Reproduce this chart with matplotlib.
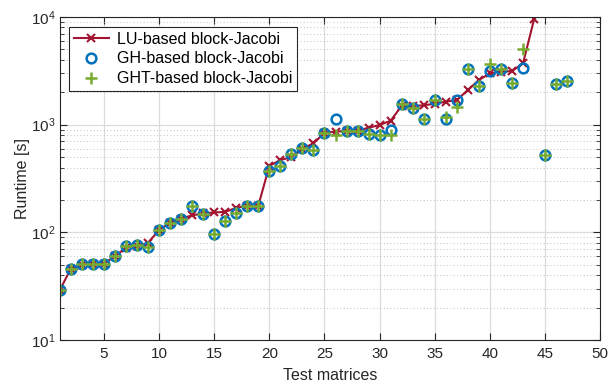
import matplotlib
matplotlib.use("Agg")
import matplotlib.pyplot as plt
import numpy as np

plt.rcParams['font.family'] = ['Liberation Sans', 'DejaVu Sans']
plt.rcParams['mathtext.default'] = 'regular'

# runtimes [s] per test matrix
lu = [29, 46, 50, 51, 51, 60, 72, 74, 80, 105,
      123, 134, 144, 150, 153, 155, 169, 177, 177, 414,
      470, 500, 600, 670, 843, 861, 874, 880, 937, 994,
      1090, 1500, 1492, 1514, 1565, 1636, 1695, 2100, 2600, 3000,
      3100, 3150, 3720, 9500]
gh = [29, 46, 50.6, 51, 51, 60, 75, 76, 73.6, 105,
      123, 134, 177, 147, 96, 128, 150, 177, 177, 374,
      414, 540, 608, 585, 843, 1122, 874, 874, 815, 802,
      887, 1550, 1420, 1130, 1684, 1125, 1695, 3311, 2271, 3130,
      3311, 2420, 3390, np.nan, 523, 2366, 2546]
ght = [29, 46, 50.6, 51, 51, 60, 75, 76, 73.6, 105,
       123, 134, 177, 147, 96, 128, 150, 177, 177, 374,
       414, 540, 608, 585, 843, 802, 874, 874, 815, 802,
       802, 1550, 1420, 1130, 1684, 1187, 1469, 3311, 2271, 3660,
       3311, 2420, 5010, np.nan, 523, 2366, 2546]

x_lu = np.arange(1, len(lu) + 1)
x_g = np.arange(1, len(gh) + 1)

fig = plt.figure(figsize=(6.1, 3.84), dpi=100)
ax = fig.add_axes([0.098, 0.1146, 0.886, 0.841])

ax.plot(x_lu, lu, '-x', color='#A2142F', lw=1.5, ms=6, mew=1.5,
        label='LU-based block-Jacobi')
ax.plot(x_g, gh, 'o', color='#0072BD', mfc='none', ms=7, mew=1.8,
        label='GH-based block-Jacobi')
ax.plot(x_g, ght, '+', color='#77AC30', ms=8, mew=1.8,
        label='GHT-based block-Jacobi')

ax.set_yscale('log')
ax.set_xlim(1, 50)
ax.set_ylim(10, 1e4)
ax.set_xticks(np.arange(5, 51, 5))

ax.grid(True, which='major', color='#dcdcdc', lw=0.9, ls='-')
ax.grid(True, which='minor', axis='y', color='#b0b0b0', lw=0.6, ls=(0, (1, 3)))
ax.set_axisbelow(True)

ax.tick_params(which='both', direction='in', top=True, right=True,
               colors='#262626', labelsize=11)
ax.tick_params(which='major', length=5)
ax.tick_params(which='minor', length=3)
ax.tick_params(axis='x', pad=5)
ax.tick_params(axis='y', pad=3)
for s in ax.spines.values():
    s.set_color('#262626')
    s.set_linewidth(0.8)

ax.set_xlabel('Test matrices', fontsize=11.5, color='#262626', labelpad=5)
ax.set_ylabel('Runtime [s]', fontsize=11.5, color='#262626', labelpad=1)

leg = ax.legend(loc='upper left', fontsize=11.5, fancybox=False,
                framealpha=1, edgecolor='#262626',
                bbox_to_anchor=(0.017, 0.97),
                handlelength=2.2, borderpad=0.3, labelspacing=0.3,
                handletextpad=0.5, borderaxespad=0)
leg.get_frame().set_linewidth(0.8)

fig.savefig('out.png', dpi=100)
